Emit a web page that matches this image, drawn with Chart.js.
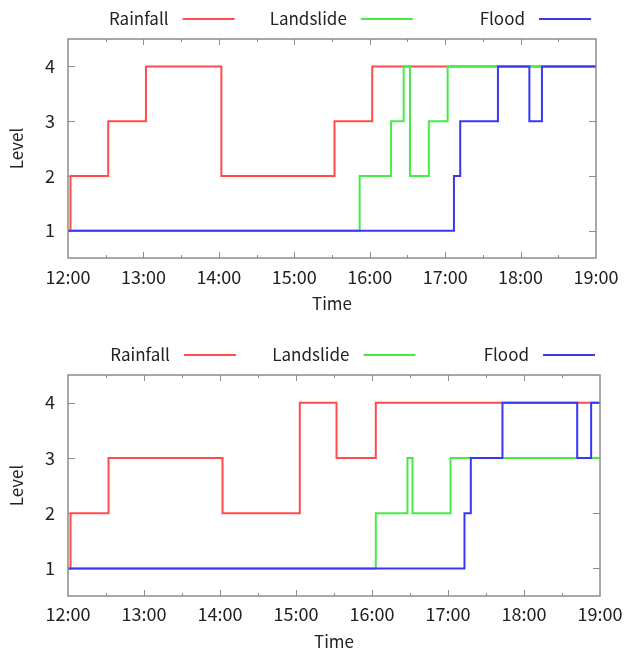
<!DOCTYPE html>
<html>
<head>
<meta charset="utf-8">
<script src="https://cdn.jsdelivr.net/npm/chart.js@4.4.1/dist/chart.umd.min.js"></script>
<style>
  body { margin: 0; background: #fff; }
  #wrap { width: 625px; height: 652px; position: relative; }
  canvas { display: block; }
</style>
</head>
<body>
<div id="wrap">
  <canvas id="chartTop" width="625" height="326"></canvas>
  <canvas id="chartBottom" width="625" height="326"></canvas>
</div>
<script>
const hourLabels = ['12:00', '13:00', '14:00', '15:00', '16:00', '17:00', '18:00', '19:00'];
const levelTicks = [1, 2, 3, 4];
const seriesNames = ['Rainfall', 'Landslide', 'Flood'];
const seriesColors = ['rgb(255,75,75)', 'rgb(70,235,70)', 'rgb(55,55,245)'];

// upper chart
const rainfallTimesA = ['12:00', '12:02', '12:32', '13:02', '14:02', '15:32', '16:02', '19:00'];
const rainfallLevelsA = [1, 2, 3, 4, 2, 3, 4, 4];
const landslideTimesA = ['12:00', '15:52', '16:17', '16:27', '16:32', '16:47', '17:02', '19:00'];
const landslideLevelsA = [1, 2, 3, 4, 2, 3, 4, 4];
const floodTimesA = ['12:00', '17:07', '17:12', '17:42', '18:07', '18:17', '19:00'];
const floodLevelsA = [1, 2, 3, 4, 3, 4, 4];

// lower chart
const rainfallTimesB = ['12:00', '12:02', '12:32', '14:02', '15:03', '15:32', '16:03', '19:00'];
const rainfallLevelsB = [1, 2, 3, 2, 4, 3, 4, 4];
const landslideTimesB = ['12:00', '16:03', '16:28', '16:32', '17:02', '19:00'];
const landslideLevelsB = [1, 2, 3, 2, 3, 3];
const floodTimesB = ['12:00', '17:13', '17:18', '17:43', '18:42', '18:53', '19:00'];
const floodLevelsB = [1, 2, 3, 4, 3, 4, 4];

const fontFamily = "'Noto Sans CJK JP', 'Noto Sans', sans-serif";
const textColor = '#222';
const frameColor = '#8c8c8c';

function toMinutes(s)
{
    const [h, m] = s.split(':').map(Number);
    return (h - 12) * 60 + m;
}

function toPoints(times, levels)
{
    return times.map((t, i) => ({ x: toMinutes(t), y: levels[i] }));
}

// gnuplot-like frame; inward ticks go under the lines, the border over them
const frameTicks = {
    id: 'frameTicks',
    beforeDatasetsDraw(chart)
    {
        const { ctx, chartArea: a, scales: { x, y } } = chart;
        ctx.save();
        ctx.strokeStyle = frameColor;
        ctx.lineWidth = 1;
        ctx.beginPath();
        x.ticks.forEach(t =>
        {
            if (t.value <= x.min || t.value >= x.max) return;
            const px = Math.round(x.getPixelForValue(t.value)) + 0.5;
            const len = t.value % 60 === 0 ? 6 : 3;
            ctx.moveTo(px, a.bottom); ctx.lineTo(px, a.bottom - len);
            ctx.moveTo(px, a.top); ctx.lineTo(px, a.top + len);
        });
        y.ticks.forEach(t =>
        {
            const py = Math.round(y.getPixelForValue(t.value)) + 0.5;
            ctx.moveTo(a.left, py); ctx.lineTo(a.left + 7, py);
            ctx.moveTo(a.right, py); ctx.lineTo(a.right - 7, py);
        });
        ctx.stroke();
        ctx.restore();
    },
    afterDraw(chart)
    {
        const { ctx, chartArea: a } = chart;
        ctx.save();
        ctx.strokeStyle = frameColor;
        ctx.lineWidth = 1.5;
        ctx.strokeRect(a.left, a.top, a.width, a.height);
        ctx.restore();
    }
};

// key above the plot: text first, line sample after it
const keyAbove = {
    id: 'keyAbove',
    afterDraw(chart)
    {
        const { ctx, chartArea: a } = chart;
        const colWidth = a.width * 0.3375;
        const yKey = a.top - chart.options.keyGap;
        ctx.save();
        ctx.font = '17px ' + fontFamily;
        ctx.textAlign = 'right';
        ctx.textBaseline = 'middle';
        chart.data.datasets.forEach((ds, i) =>
        {
            const lineEnd = a.right - 5 - (2 - i) * colWidth;
            const lineStart = lineEnd - 52;
            ctx.fillStyle = textColor;
            ctx.fillText(ds.label, lineStart - 14, yKey);
            ctx.strokeStyle = ds.borderColor;
            ctx.lineWidth = 2;
            ctx.beginPath();
            ctx.moveTo(lineStart, yKey);
            ctx.lineTo(lineEnd, yKey);
            ctx.stroke();
        });
        ctx.restore();
    }
};

function makeChart(id, times, levels, box)
{
    const datasets = seriesNames.map((name, i) => ({
        label: name,
        data: toPoints(times[i], levels[i]),
        borderColor: seriesColors[i],
        borderWidth: 2,
        stepped: 'before',
        pointRadius: 0,
        fill: false,
        order: 3 - i
    }));

    return new Chart(document.getElementById(id),
    {
        type: 'line',
        data: { datasets: datasets },
        options:
        {
            responsive: false,
            animation: false,
            keyGap: box.keyGap,
            layout: { padding: { top: box.top, right: box.right, left: 0, bottom: 0 } },
            plugins: { legend: { display: false }, tooltip: { enabled: false } },
            scales:
            {
                x:
                {
                    type: 'linear',
                    min: 0,
                    max: 420,
                    grid: { display: false, drawTicks: false },
                    border: { display: false },
                    ticks:
                    {
                        stepSize: 30,
                        autoSkip: false,
                        maxRotation: 0,
                        padding: box.tickPad,
                        color: textColor,
                        font: { family: fontFamily, size: 18 },
                        callback: v => (v % 60 === 0 ? hourLabels[v / 60] : '')
                    },
                    title:
                    {
                        display: true,
                        text: 'Time',
                        color: textColor,
                        font: { family: fontFamily, size: 17 },
                        padding: { top: 0, bottom: box.titlePad }
                    },
                    afterFit: s =>
                    {
                        s.height = box.xHeight;
                        s.paddingLeft = 0;
                        s.paddingRight = 0;
                    }
                },
                y:
                {
                    min: 0.5,
                    max: 4.5,
                    grid: { display: false, drawTicks: false },
                    border: { display: false },
                    afterBuildTicks: s => { s.ticks = levelTicks.map(v => ({ value: v })); },
                    ticks:
                    {
                        padding: 13,
                        color: textColor,
                        font: { family: fontFamily, size: 18 },
                        callback: v => String(v)
                    },
                    title:
                    {
                        display: true,
                        text: 'Level',
                        color: textColor,
                        font: { family: fontFamily, size: 17 },
                        padding: { top: 6, bottom: 0 }
                    },
                    afterFit: s =>
                    {
                        s.width = 68;
                        s.paddingTop = 0;
                        s.paddingBottom = 0;
                    }
                }
            }
        },
        plugins: [frameTicks, keyAbove]
    });
}

makeChart('chartTop',
    [rainfallTimesA, landslideTimesA, floodTimesA],
    [rainfallLevelsA, landslideLevelsA, floodLevelsA],
    { top: 39, right: 29, xHeight: 68, tickPad: 8, titlePad: 12, keyGap: 20 });

makeChart('chartBottom',
    [rainfallTimesB, landslideTimesB, floodTimesB],
    [rainfallLevelsB, landslideLevelsB, floodLevelsB],
    { top: 49, right: 25, xHeight: 56, tickPad: 7, titlePad: 0, keyGap: 20 });
</script>
</body>
</html>
